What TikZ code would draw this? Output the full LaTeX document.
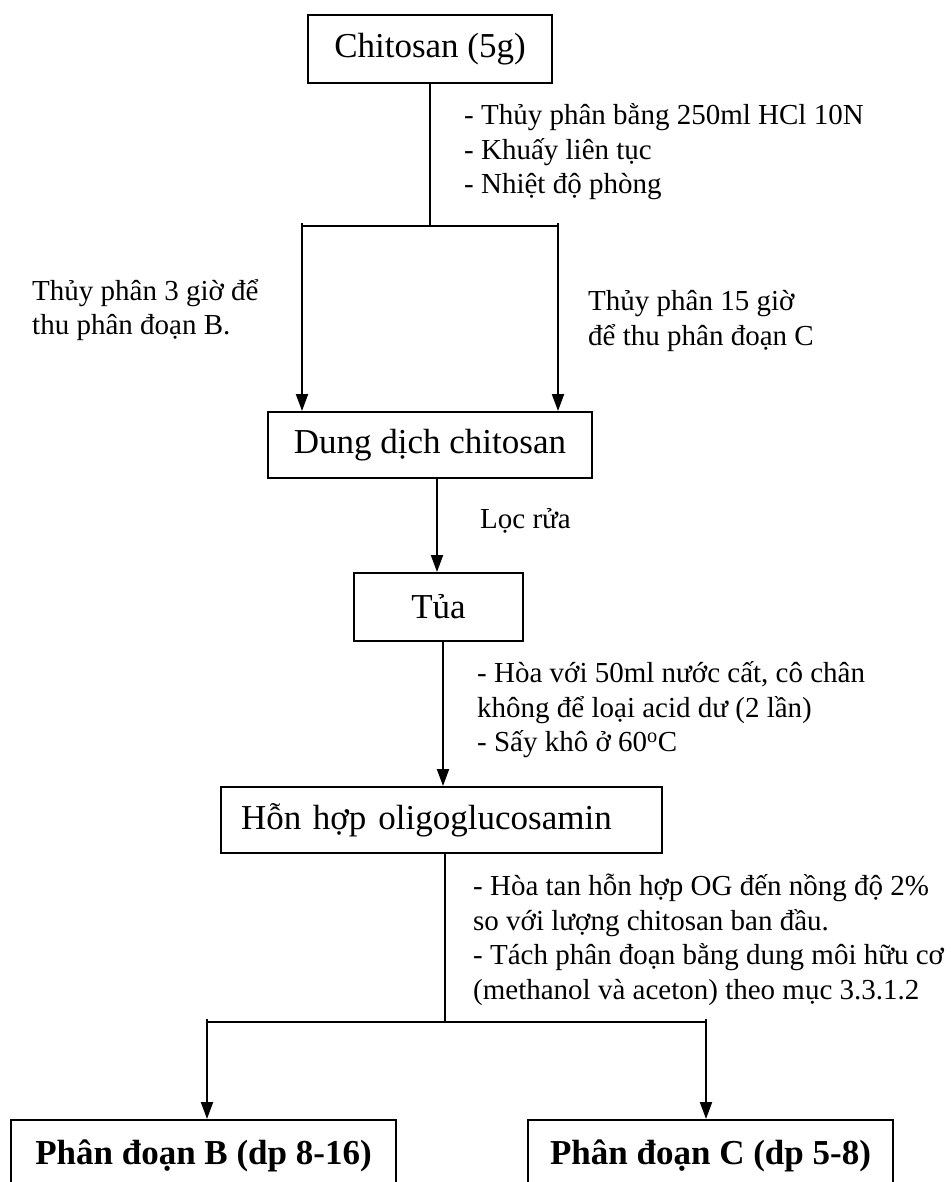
\documentclass[tikz,border=0pt]{standalone}
\usepackage{fontspec}
\setmainfont{Liberation Serif}
\usetikzlibrary{arrows.meta}
\begin{document}
\begin{tikzpicture}[x=1pt,y=-1pt,
  box/.style={draw, line width=2pt, inner sep=0pt, font=\fontsize{35}{40}\selectfont},
  boldbox/.style={box, font=\fontsize{35}{40}\selectfont\bfseries},
  note/.style={anchor=west, inner sep=0pt, align=left, font=\fontsize{29}{34.5}\selectfont},
  conn/.style={line width=2pt},
  arr/.style={conn, -{Triangle[length=17pt,width=12pt]}}]
\useasboundingbox (0,0) rectangle (950,1182);
\clip (0,0) rectangle (950,1182);
% boxes
\node[box, minimum width=244pt, minimum height=68pt] (chit) at (430,49) {Chitosan (5g)\hspace{12pt}};
\node[box, minimum width=324pt, minimum height=66pt] (dd) at (430,445) {Dung dịch chitosan\hspace{14pt}};
\node[box, minimum width=169pt, minimum height=68pt] (tua) at (438.5,607) {Tủa};
\node[box, minimum width=441pt, minimum height=66pt, text width=401pt, align=left] (hh) at (441.5,820) {Hỗn hợp\hspace{12pt}oligoglucosamin};
\node[boldbox, anchor=north, minimum width=385pt, minimum height=72pt] (pb) at (203.5,1119) {Phân đoạn B (dp 8-16)};
\node[boldbox, anchor=north, minimum width=365pt, minimum height=72pt] (pc) at (710.5,1119) {Phân đoạn C (dp 5-8)};
% notes
\node[note] (n1) at (464,152) {- Thủy phân bằng 250ml HCl 10N\\- Khuấy liên tục\\- Nhiệt độ phòng};
\node[note] (n2) at (32,310) {Thủy phân 3 giờ để\\thu phân đoạn B.};
\node[note] (n3) at (588,321) {Thủy phân 15 giờ\\để thu phân đoạn C};
\node[note] (n4) at (480,521) {Lọc rửa};
\node[note] (n5) at (477,710) {- Hòa với 50ml nước cất, cô chân\\không để loại acid dư (2 lần)\\- Sấy khô ở 60\textsuperscript{o}C};
\node[note] (n6) at (473,940) {- Hòa tan hỗn hợp OG đến nồng độ 2\%\\so với lượng chitosan ban đầu.\\- Tách phân đoạn bằng dung môi hữu cơ\\(methanol và aceton) theo mục 3.3.1.2};
% connectors
\coordinate (bl) at (302,226);
\coordinate (br) at (558,226);
\draw[conn] (chit.south) -- (chit.south |- bl);
\draw[conn] (bl) -- (br);
\draw[arr] ([yshift=3pt]bl) -- (bl |- dd.north);
\draw[arr] ([yshift=3pt]br) -- (br |- dd.north);
\draw[arr] ([xshift=-1.5pt]tua.north |- dd.south) -- ([xshift=-1.5pt]tua.north);
\draw[arr] ([xshift=1.5pt]hh.north |- tua.south) -- ([xshift=1.5pt]hh.north);
\coordinate (cl) at (207,1022);
\coordinate (cr) at (706,1022);
\draw[conn] ([xshift=3.5pt]hh.south) -- ([xshift=3.5pt]hh.south |- cl);
\draw[conn] (cl) -- (cr);
\draw[arr] ([yshift=3pt]cl) -- (cl |- pb.north);
\draw[arr] ([yshift=3pt]cr) -- (cr |- pc.north);
\end{tikzpicture}
\end{document}
